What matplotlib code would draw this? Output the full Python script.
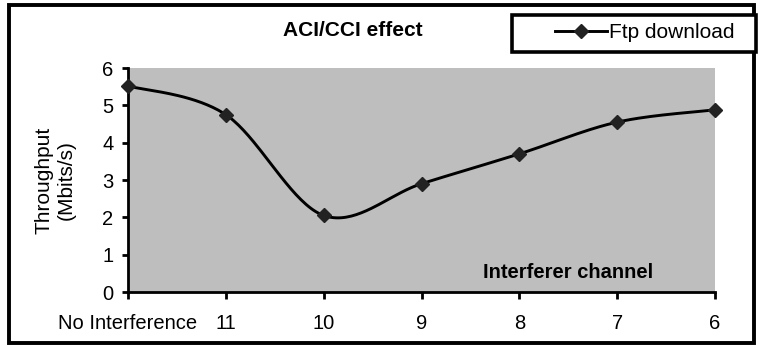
import numpy as np
import matplotlib
matplotlib.use("Agg")
import matplotlib.pyplot as plt
from matplotlib.patches import Rectangle
from matplotlib.lines import Line2D

plt.rcParams["font.family"] = ["Liberation Sans", "DejaVu Sans"]

# Interferer channels and measured FTP throughput (Mbit/s)
channels = ["No Interference", "11", "10", "9", "8", "7", "6"]
throughput = [5.52, 4.75, 2.05, 2.9, 3.7, 4.55, 4.88]
y_ticks = [0, 1, 2, 3, 4, 5, 6]
series_name = "Ftp download"

W, H = 762, 346
fig = plt.figure(figsize=(W / 100, H / 100), dpi=100)
fig.patch.set_facecolor("white")

ax = fig.add_axes([128 / W, 1 - 292 / H, (715 - 128) / W, (292 - 68) / H])
ax.set_facecolor("#bebebe")

x = np.arange(len(channels))
y = np.array(throughput, dtype=float)

# Smoothed line: cubic Bezier segments with Catmull-Rom style control points
def smooth_path(xs, ys, n=40):
    px = np.concatenate([[xs[0]], xs, [xs[-1]]])
    py = np.concatenate([[ys[0]], ys, [ys[-1]]])
    out_x, out_y = [], []
    t = np.linspace(0, 1, n)
    for i in range(1, len(px) - 2):
        p0 = np.array([px[i], py[i]])
        p3 = np.array([px[i + 1], py[i + 1]])
        p1 = p0 + (np.array([px[i + 1], py[i + 1]]) - np.array([px[i - 1], py[i - 1]])) / 6
        p2 = p3 - (np.array([px[i + 2], py[i + 2]]) - np.array([px[i], py[i]])) / 6
        b = ((1 - t) ** 3)[:, None] * p0 + (3 * (1 - t) ** 2 * t)[:, None] * p1 \
            + (3 * (1 - t) * t ** 2)[:, None] * p2 + (t ** 3)[:, None] * p3
        out_x.extend(b[:, 0]); out_y.extend(b[:, 1])
    return np.array(out_x), np.array(out_y)

sx, sy = smooth_path(x.astype(float), y)
ax.plot(sx, sy, color="black", lw=2.1, solid_capstyle="round", zorder=3, clip_on=False)
ax.plot(x, y, linestyle="none", marker="D", markersize=7, color="#222222",
        zorder=4, clip_on=False)

ax.set_xlim(0, len(channels) - 1)
ax.set_ylim(0, 6)
ax.set_xticks(x)
ax.set_xticklabels(channels)
ax.set_yticks(y_ticks)

for side in ("top", "right"):
    ax.spines[side].set_visible(False)
for side in ("left", "bottom"):
    ax.spines[side].set_linewidth(2.0)
    ax.spines[side].set_color("black")

ax.tick_params(axis="x", length=5, width=2, pad=11, labelsize=14.5, direction="out")
ax.tick_params(axis="y", length=4.5, width=2, pad=6, labelsize=14.5, direction="out")

ax.text(568 / W, 1 - 273 / H, "Interferer channel", transform=fig.transFigure,
        ha="center", va="center", fontsize=14.5, fontweight="bold")

fig.text(353 / W, 1 - 31 / H, "ACI/CCI effect", ha="center", va="center",
         fontsize=15, fontweight="bold")

fig.text(55 / W, 1 - 180 / H, "Throughput\n(Mbits/s)", rotation=90, ha="center",
         va="center", fontsize=15, multialignment="center", linespacing=1.25)

# Outer frame
fig.patches.append(Rectangle((9 / W, 1 - 343 / H), (754 - 9) / W, (343 - 5) / H,
                             transform=fig.transFigure, fill=False, lw=2.8,
                             edgecolor="black"))
# Legend box
fig.patches.append(Rectangle((512 / W, 1 - 52 / H), (756 - 512) / W, (52 - 15) / H,
                             transform=fig.transFigure, fill=True, facecolor="white",
                             lw=2.6, edgecolor="black", zorder=5))
handle = Line2D([], [], color="black", lw=2.1, marker="D", markersize=7,
                markerfacecolor="#222222", markeredgecolor="#222222")
leg = fig.legend([handle], [series_name], loc="center left",
                 bbox_to_anchor=(555 / W, 1 - 33 / H), frameon=False,
                 fontsize=15, handlelength=2.5, handletextpad=0.1,
                 borderpad=0, borderaxespad=0)
leg.set_zorder(6)

fig.savefig("out.png", dpi=100, facecolor="white")
